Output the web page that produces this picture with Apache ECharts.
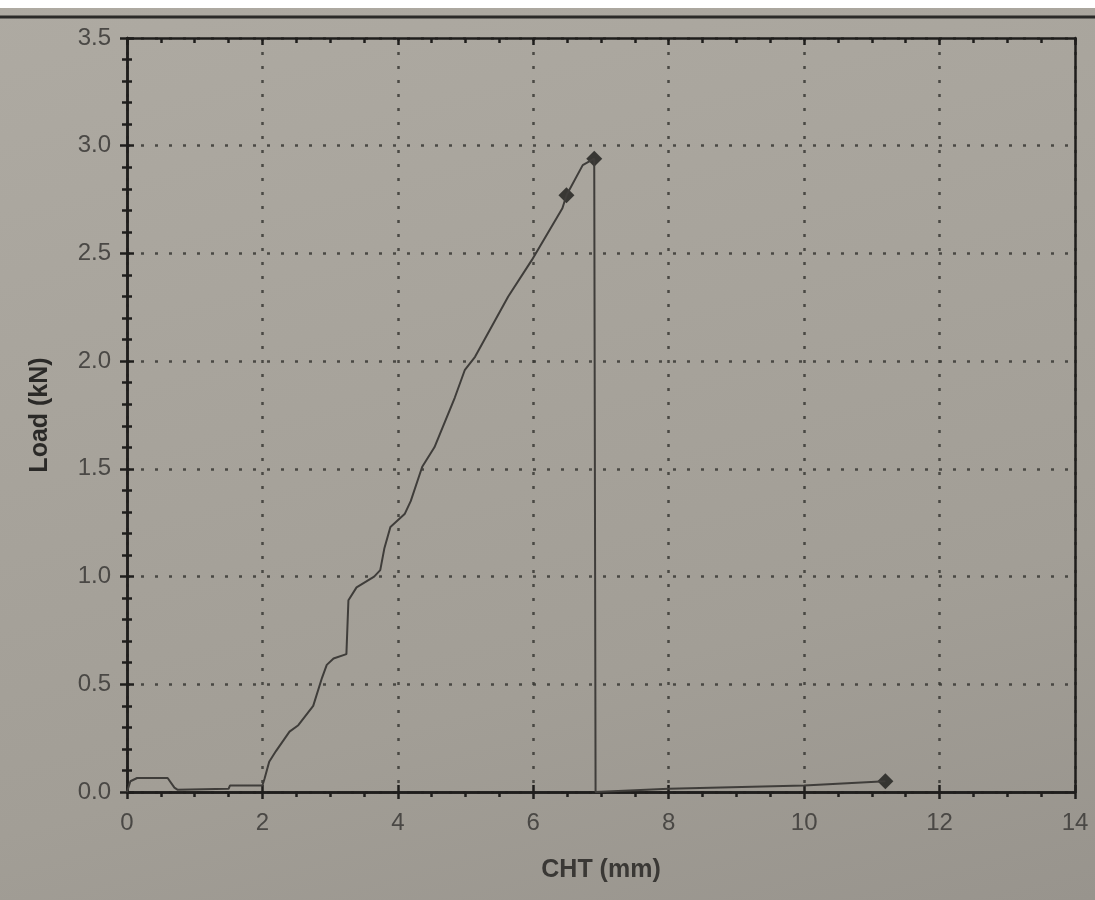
<!DOCTYPE html>
<html>
<head>
<meta charset="utf-8">
<script src="https://cdn.jsdelivr.net/npm/echarts@6/dist/echarts.min.js"></script>
<style>
  html, body { margin: 0; padding: 0; background: #fff; }
  #chart {
    width: 1095px; height: 900px;
    background: linear-gradient(165deg, #aeaaa2 0%, #a8a49c 35%, #a29e96 70%, #98948d 100%);
  }
</style>
</head>
<body>
<div id="chart"></div>
<script>
// load curve
const cht  = [0, 0.05, 0.15, 0.6, 0.7, 0.75, 1.5, 1.52, 2.0, 2.03, 2.1, 2.2, 2.4, 2.53, 2.75, 2.88, 2.95, 3.05, 3.24, 3.27, 3.39, 3.65, 3.74, 3.8, 3.89, 4.1, 4.19, 4.36, 4.54, 4.84, 4.99, 5.14, 5.63, 5.98, 6.43, 6.49, 6.73, 6.9, 6.92, 8.0, 10.0, 11.2];
const load = [0.0, 0.05, 0.065, 0.065, 0.02, 0.01, 0.015, 0.03, 0.03, 0.06, 0.14, 0.19, 0.28, 0.31, 0.40, 0.53, 0.59, 0.62, 0.64, 0.89, 0.95, 1.00, 1.03, 1.13, 1.23, 1.29, 1.35, 1.51, 1.60, 1.83, 1.96, 2.02, 2.30, 2.47, 2.71, 2.77, 2.91, 2.94, 0.0, 0.015, 0.03, 0.05];
const markX = [6.49, 6.9, 11.2];
const markY = [2.77, 2.94, 0.05];

const chart = echarts.init(document.getElementById('chart'));

const ink = '#1f1e1c';
const fontFam = 'Liberation Sans, Arial, sans-serif';
const labelFont = { color: '#4a4845', fontSize: 24, fontFamily: fontFam };
const gridRect = { left: 127, right: 20, top: 38, bottom: 108 };
const dotted = { show: true, lineStyle: { color: '#3a3835', width: 2.5, type: [3, 11], opacity: 0.85 } };

function xAx(gridIndex, extra) {
  return Object.assign({
    type: 'value', gridIndex: gridIndex, min: 0, max: 14, interval: 2,
    minorTick: { show: true, splitNumber: 4, length: 5, lineStyle: { color: ink, width: 2.5 } },
    axisLine: { onZero: false, lineStyle: { color: ink, width: 2.5 } },
    axisTick: { length: 7, lineStyle: { color: ink, width: 2.5 } },
    splitLine: { show: false },
    axisLabel: { show: false }
  }, extra);
}
function yAx(gridIndex, extra) {
  return Object.assign({
    type: 'value', gridIndex: gridIndex, min: 0, max: 3.5, interval: 0.5,
    minorTick: { show: true, splitNumber: 5, length: 5, lineStyle: { color: ink, width: 2.5 } },
    axisLine: { onZero: false, lineStyle: { color: ink, width: 2.5 } },
    axisTick: { length: 7, lineStyle: { color: ink, width: 2.5 } },
    splitLine: { show: false },
    axisLabel: { show: false }
  }, extra);
}
const inTick = { inside: true, length: 7, lineStyle: { color: ink, width: 2.5 } };

const option = {
  backgroundColor: 'transparent',
  animation: false,
  graphic: [
    { type: 'rect', shape: { x: 0, y: 0, width: 1095, height: 8 }, style: { fill: '#ffffff' } },
    { type: 'line', shape: { x1: 0, y1: 17, x2: 1095, y2: 17 }, style: { stroke: '#2b2a28', lineWidth: 3 } }
  ],
  grid: [
    Object.assign({ show: false }, gridRect),
    Object.assign({ show: false }, gridRect)
  ],
  xAxis: [
    xAx(0, {
      position: 'bottom',
      name: 'CHT (mm)', nameLocation: 'middle', nameGap: 66,
      nameTextStyle: { color: '#3a3835', fontSize: 25, fontWeight: 'bold', fontFamily: fontFam },
      axisLabel: Object.assign({ show: true, margin: 19 }, labelFont),
      splitLine: dotted
    }),
    xAx(0, { position: 'top', axisTick: inTick,
      minorTick: { show: true, splitNumber: 4, inside: true, length: 5, lineStyle: { color: ink, width: 2.5 } } }),
    xAx(1, { position: 'bottom', axisTick: inTick, minorTick: { show: false } })
  ],
  yAxis: [
    yAx(0, {
      position: 'left',
      name: 'Load (kN)', nameLocation: 'middle', nameGap: 74, nameRotate: 90,
      nameTextStyle: { color: '#2a2927', fontSize: 25, fontWeight: 'bold', fontFamily: fontFam },
      axisLabel: Object.assign({ show: true, margin: 16, formatter: v => v.toFixed(1) }, labelFont),
      splitLine: dotted
    }),
    yAx(0, { position: 'right', axisTick: { show: false }, minorTick: { show: false } }),
    yAx(1, { position: 'left', axisTick: inTick,
      minorTick: { show: true, splitNumber: 5, inside: true, length: 5, lineStyle: { color: ink, width: 2.5 } } })
  ],
  series: [
    {
      type: 'line', xAxisIndex: 0, yAxisIndex: 0,
      data: cht.map((x, i) => [x, load[i]]),
      showSymbol: false, symbol: 'none',
      lineStyle: { color: '#3f3d3a', width: 2 }
    },
    {
      type: 'scatter', xAxisIndex: 0, yAxisIndex: 0,
      data: markX.map((x, i) => [x, markY[i]]),
      symbol: 'diamond', symbolSize: 16,
      itemStyle: { color: '#1c1b19' }
    }
  ]
};

chart.setOption(option);
</script>
</body>
</html>
